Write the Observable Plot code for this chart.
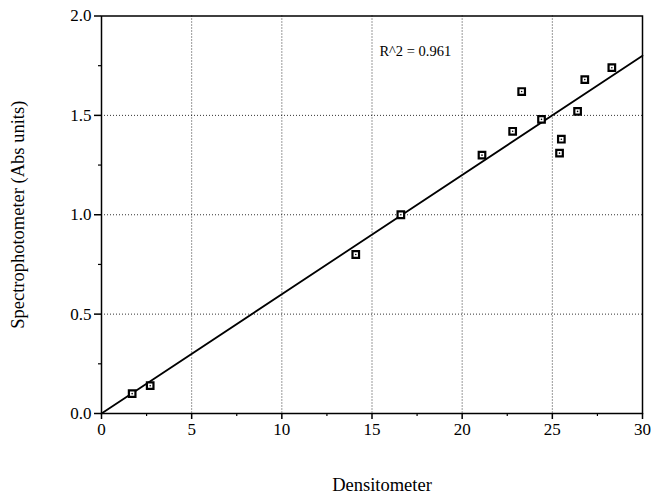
<!DOCTYPE html>
<html>
<head>
<meta charset="utf-8">
<script src="https://cdn.jsdelivr.net/npm/d3@7"></script>
<script src="https://cdn.jsdelivr.net/npm/@observablehq/plot@0.6"></script>
<style>
  html, body { margin: 0; padding: 0; background: #fff; }
</style>
</head>
<body>
<div id="chart"></div>
<script>
// Data
const densitometer = [1.7, 2.7, 14.1, 16.6, 21.1, 22.8, 23.3, 24.4, 25.4, 25.5, 26.4, 26.8, 28.3];
const spectro      = [0.10, 0.14, 0.80, 1.00, 1.30, 1.42, 1.62, 1.48, 1.31, 1.38, 1.52, 1.68, 1.74];
const fitX = [0, 30];
const fitY = [0, 1.8];
const xTicks = [0, 5, 10, 15, 20, 25, 30];
const yTicks = [0, 0.5, 1.0, 1.5, 2.0];
const xMinor = [2.5, 7.5, 12.5, 17.5, 22.5, 27.5];
const yMinor = [0.25, 0.75, 1.25, 1.75];
const xGrid = [5, 10, 15, 20, 25];
const yGrid = [0.5, 1.0, 1.5];
const annotation = [{x: 17.4, y: 1.82, text: "R^2 = 0.961"}];
const xTitle = "Densitometer";
const yTitle = "Spectrophotometer (Abs units)";

const points = densitometer.map((d, i) => ({x: d, y: spectro[i]}));
const fit = fitX.map((d, i) => ({x: d, y: fitY[i]}));

const chart = Plot.plot({
  width: 653,
  height: 496,
  marginLeft: 101,
  marginRight: 11,
  marginTop: 15.5,
  marginBottom: 83,
  style: {fontFamily: "'Liberation Serif', 'DejaVu Serif', serif", fontSize: "17px", background: "#fff", color: "#000"},
  x: {domain: [0, 30]},
  y: {domain: [0, 2]},
  marks: [
    Plot.gridX(xGrid, {stroke: "#000", strokeOpacity: 0.8, strokeDasharray: "1,2", strokeWidth: 1}),
    Plot.gridY(yGrid, {stroke: "#000", strokeOpacity: 0.8, strokeDasharray: "1,2", strokeWidth: 1}),
    Plot.frame({stroke: "#000", strokeWidth: 1.5}),
    Plot.axisX(xTicks, {tickSize: 6, tickPadding: 3, strokeWidth: 1.5, label: null, fontSize: 17, tickFormat: d => String(d)}),
    Plot.axisX(xMinor, {tickSize: 3, text: null, label: null, strokeWidth: 1.2}),
    Plot.axisY(yTicks, {tickSize: 7, tickPadding: 3, strokeWidth: 1.5, label: null, fontSize: 17, tickFormat: d => d.toFixed(1)}),
    Plot.axisY(yMinor, {tickSize: 3, text: null, label: null, strokeWidth: 1.2}),
    Plot.axisY([], {label: yTitle, labelAnchor: "center", labelArrow: "none", labelOffset: 91, fontSize: 18.5, tickSize: 0}),
    Plot.line(fit, {x: "x", y: "y", stroke: "#000", strokeWidth: 1.8}),
    Plot.dot(points, {x: "x", y: "y", symbol: "square", r: 3.7, fill: "#fff", stroke: "#000", strokeWidth: 2.2}),
    Plot.dot(points, {x: "x", y: "y", r: 0.8, fill: "#000"}),
    Plot.text(annotation, {x: "x", y: "y", text: "text", fontSize: 14.5, textAnchor: "middle"}),
    Plot.text([xTitle], {frameAnchor: "bottom", dx: 10, dy: 77, fontSize: 18.5})
  ]
});
document.getElementById("chart").appendChild(chart);
</script>
</body>
</html>
